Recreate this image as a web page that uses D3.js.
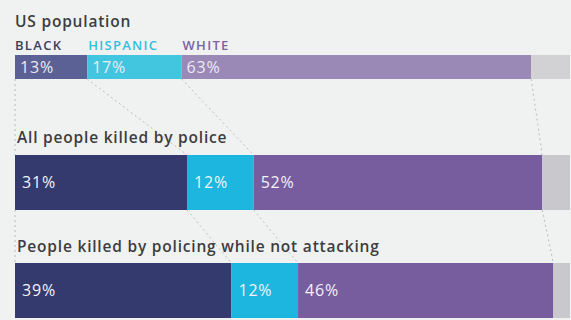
<!DOCTYPE html>
<html>
<head>
<meta charset="utf-8">
<script src="https://cdn.jsdelivr.net/npm/d3@7"></script>
<style>
  body { margin: 0; background: #f0f2f1; }
  svg { display: block; font-family: "Open Sans", Lato, sans-serif; }
</style>
</head>
<body>
<svg id="chart"></svg>
<script>
const groups = ["US population", "All people killed by police", "People killed by policing while not attacking"];
const races = ["BLACK", "HISPANIC", "WHITE"];
const black = [13, 31, 39];
const hispanic = [17, 12, 12];
const white = [63, 52, 46];

const width = 571;
const height = 320;

// row layout: title baseline, bar top, bar height
const rows = [
  { titleY: 27, barY: 55, barH: 24 },
  { titleY: 143, barY: 155, barH: 55 },
  { titleY: 252, barY: 263, barH: 55 }
];

const topColors = ["#5b6194", "#42c6df", "#9a88b6", "#d2d2d4"];
const mainColors = ["#343a6e", "#1cb6de", "#775c9e", "#c9c8cc"];
const labelColors = ["#3b4060", "#2fc0dc", "#7b62a0"];

const x = d3.scaleLinear().domain([0, 100]).range([15, 570]);

const svg = d3.select("#chart")
  .attr("width", width)
  .attr("height", height);

const data = groups.map(function(g, i) {
  const vals = [black[i], hispanic[i], white[i]];
  vals.push(100 - d3.sum(vals));
  let acc = 0;
  const segs = vals.map(function(v, j) {
    const s = { key: j, value: v, x0: acc, x1: acc + v };
    acc += v;
    return s;
  });
  return { name: g, segs: segs, row: rows[i], idx: i };
});

// dotted connectors between rows
for (let i = 0; i < data.length - 1; i++) {
  const a = data[i], b = data[i + 1];
  a.segs.forEach(function(s, j) {
    svg.append("line")
      .attr("x1", x(s.x0))
      .attr("y1", a.row.barY + a.row.barH)
      .attr("x2", x(b.segs[j].x0))
      .attr("y2", b.row.barY)
      .style("stroke", "#b9bcc4")
      .style("stroke-width", 1)
      .style("stroke-dasharray", "2,3");
  });
}

const rowG = svg.selectAll("g.row")
  .data(data)
  .enter().append("g")
  .attr("class", "row");

rowG.append("text")
  .attr("x", function(d) { return d.idx === 0 ? 15 : 17; })
  .attr("y", function(d) { return d.row.titleY; })
  .style("font-size", "15.5px")
  .style("font-weight", 600)
  .style("letter-spacing", "0.8px")
  .style("fill", "#3d3d40")
  .text(function(d) { return d.name; });

rowG.selectAll("rect")
  .data(function(d) { return d.segs.map(function(s) { return Object.assign({ row: d.row, top: d.idx === 0 }, s); }); })
  .enter().append("rect")
  .attr("x", function(s) { return x(s.x0); })
  .attr("y", function(s) { return s.row.barY; })
  .attr("width", function(s) { return x(s.x1) - x(s.x0); })
  .attr("height", function(s) { return s.row.barH; })
  .style("fill", function(s) { return (s.top ? topColors : mainColors)[s.key]; });

rowG.selectAll("text.pct")
  .data(function(d) { return d.segs.slice(0, 3).map(function(s) { return Object.assign({ row: d.row, top: d.idx === 0 }, s); }); })
  .enter().append("text")
  .attr("class", "pct")
  .attr("x", function(s) { return x(s.x0) + (s.top ? 5 : 7); })
  .attr("y", function(s) { return s.row.barY + s.row.barH / 2 + 5.5; })
  .style("font-size", "16px")
  .style("letter-spacing", "0.8px")
  .style("fill", function(s) { return s.top ? "#eceaf4" : "#f4f2fa"; })
  .text(function(s) { return s.value + "%"; });

// race labels above the top bar
svg.selectAll("text.race")
  .data(data[0].segs.slice(0, 3))
  .enter().append("text")
  .attr("class", "race")
  .attr("x", function(s) { return x(s.x0) + (s.key === 0 ? 0 : 1); })
  .attr("y", 50)
  .style("font-size", "13px")
  .style("font-weight", 600)
  .style("letter-spacing", "1.3px")
  .style("fill", function(s) { return labelColors[s.key]; })
  .text(function(s) { return races[s.key]; });
</script>
</body>
</html>
